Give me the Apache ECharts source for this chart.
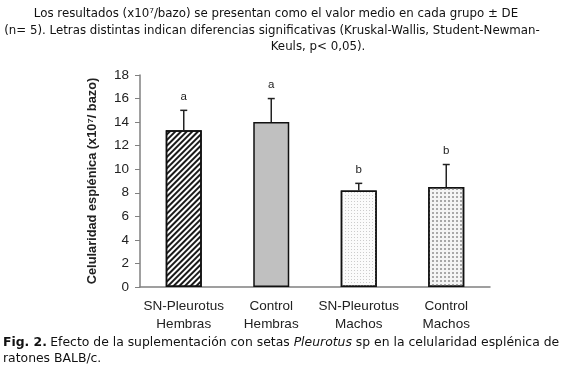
<!DOCTYPE html>
<html><head><meta charset="utf-8">
<script src="https://cdn.jsdelivr.net/npm/echarts@6/dist/echarts.min.js"></script>
<style>html,body{margin:0;padding:0;background:#fff}#c{width:571px;height:367px}</style>
</head><body><div id="c"></div>
<script>
const categories = ['SN-Pleurotus\nHembras', 'Control\nHembras', 'SN-Pleurotus\nMachos', 'Control\nMachos'];
const means = [13.3, 14.0, 8.2, 8.5];
const sd = [1.7, 2.0, 0.6, 1.9];
const letters = ['a', 'a', 'b', 'b'];
const yTicks = [0, 2, 4, 6, 8, 10, 12, 14, 16, 18];
const topNote = [
  'Los resultados (x10\u2077/bazo) se presentan como el valor medio en cada grupo \u00b1 DE',
  '(n= 5). Letras distintas indican diferencias significativas (Kruskal-Wallis, Student-Newman-',
  'Keuls, p< 0,05).'
];

const styles = [
  {color: '#ffffff', decal: {symbol: 'rect', symbolSize: 1, dashArrayX: [1, 0], dashArrayY: [1.3, 1.7], rotation: -Math.PI / 4, color: '#1a1a1a'}},
  {color: '#c0c0c0'},
  {color: '#fbfbfb', decal: {symbol: 'rect', symbolSize: 1, dashArrayX: [1, 2], dashArrayY: [1, 2], color: '#cccccc'}},
  {color: '#f4f4f4', decal: {symbol: 'rect', symbolSize: 1, dashArrayX: [2, 2], dashArrayY: [2, 2], color: '#a8a8a8'}}
];

const chart = echarts.init(document.getElementById('c'), null, {renderer: 'canvas'});
const barData = means.map((v, i) => ({
  value: v,
  itemStyle: Object.assign({borderColor: '#111', borderWidth: 1.5}, styles[i])
}));
const errData = means.map((v, i) => [i, v, v + sd[i], letters[i]]);

const noteFont = '11.8px "DejaVu Sans", Verdana, sans-serif';
const noteX = [276, 272, 318];
const noteY = [14, 31, 47];
const capFont = '12.4px "DejaVu Sans", Verdana, sans-serif';

chart.setOption({
  animation: false,
  textStyle: {fontFamily: 'Liberation Sans, Arial, sans-serif'},
  graphic: topNote.map((t, i) => ({
    type: 'text', x: noteX[i], y: noteY[i],
    style: {text: t, font: noteFont, fill: '#111', align: 'center', verticalAlign: 'middle'}
  })).concat([
    {type: 'text', x: 3, y: 335, style: {
      text: '{b|Fig. 2.} {n|Efecto de la suplementación con setas }{i|Pleurotus}{n| sp en la celularidad esplénica de}\n{n|ratones BALB/c.}',
      rich: {
        b: {font: 'bold ' + capFont, fill: '#111'},
        n: {font: capFont, fill: '#111'},
        i: {font: 'italic ' + capFont, fill: '#111'}
      }, lineHeight: 16}}
  ]),
  grid: {left: 140, right: 81, top: 75, bottom: 80},
  xAxis: {
    type: 'category', data: categories,
    axisLine: {lineStyle: {color: '#808080', width: 1.5}},
    axisTick: {show: false},
    axisLabel: {color: '#222', fontSize: 13.5, lineHeight: 18, margin: 10, interval: 0}
  },
  yAxis: {
    type: 'value', min: 0, max: 18, interval: 2,
    name: 'Celularidad esplénica (x10\u2077/ bazo)', nameLocation: 'middle', nameGap: 41,
    nameTextStyle: {fontWeight: 'bold', fontSize: 12.8, color: '#222'},
    axisLine: {show: true, lineStyle: {color: '#808080', width: 1.5}},
    axisTick: {show: true, length: 5, lineStyle: {color: '#808080'}},
    splitLine: {show: false},
    axisLabel: {color: '#222', fontSize: 13.5, margin: 11,
      formatter: v => yTicks.indexOf(v) >= 0 ? String(v) : ''}
  },
  series: [
    {type: 'bar', data: barData, barWidth: 36},
    {type: 'custom', data: errData, z: 5,
      renderItem: (params, api) => {
        const base = api.coord([api.value(0), api.value(1)]);
        const top = api.coord([api.value(0), api.value(2)]);
        const x = base[0];
        return {type: 'group', children: [
          {type: 'line', shape: {x1: x, y1: base[1], x2: x, y2: top[1]}, style: {stroke: '#222', lineWidth: 1.5}},
          {type: 'line', shape: {x1: x - 3.5, y1: top[1], x2: x + 3.5, y2: top[1]}, style: {stroke: '#222', lineWidth: 1.5}},
          {type: 'text', x: x, y: top[1] - 8, style: {text: api.value(3), font: '11.5px "Liberation Sans", Arial, sans-serif', fill: '#222', align: 'center', verticalAlign: 'bottom'}}
        ]};
      }}
  ]
});
</script></body></html>
